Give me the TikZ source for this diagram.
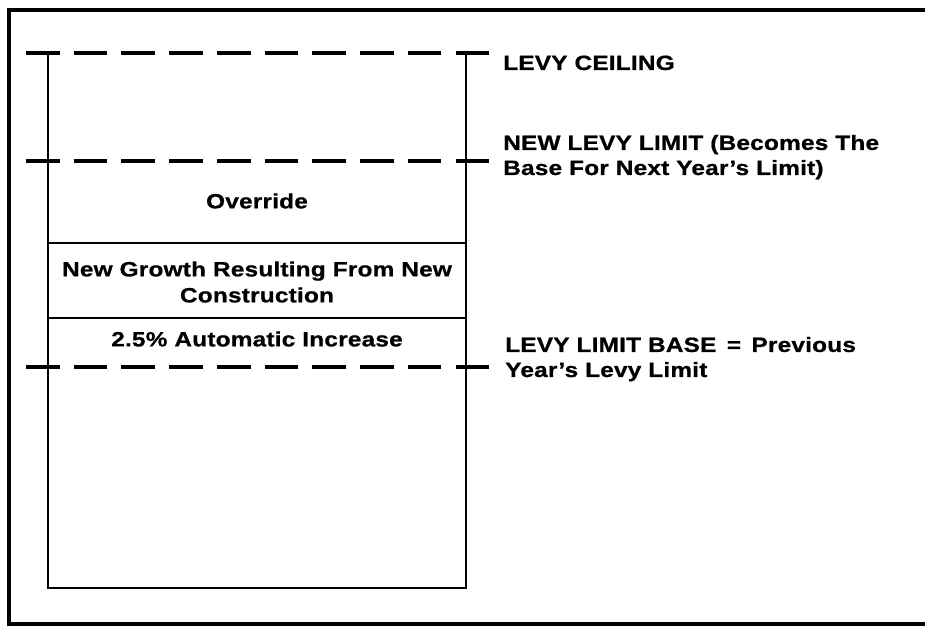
\documentclass[tikz,border=0pt]{standalone}
\usepackage{fontspec}
\setmainfont{Liberation Sans}[FakeStretch=1.18, LetterSpace=1, BoldFeatures={FakeBold=0.8}]
\usepackage{tikz}
\usetikzlibrary{positioning}

\begin{document}
\begin{tikzpicture}[
    x=0.75pt, y=-0.75pt,
    frame/.style={line width=3pt},
    wall/.style={line width=2pt},
    slab/.style={line width=1.4pt},
    levelline/.style={line width=2.6pt, dash pattern=on 25.2pt off 10.6pt},
    boxtext/.style={font=\fontsize{15.5}{19.5}\selectfont\bfseries, align=center, inner sep=0pt},
    sidetext/.style={font=\fontsize{15.5}{18.8}\selectfont\bfseries, align=left, anchor=base west, inner sep=0pt},
]
\useasboundingbox (0,0) rectangle (925,627);

% outer frame (open on the right)
\draw[frame] (925,10) -- (9,10) -- (9,624) -- (925,624);

% levy box
\coordinate (topL) at (48,53);
\coordinate (topR) at (466,53);
\coordinate (botL) at (48,588);
\coordinate (botR) at (466,588);
\draw[wall] (topL) -- (botL) -- (botR) -- (topR);

% layers inside the box
\coordinate (g1L) at (48,243);
\coordinate (g1R) at (466,243);
\coordinate (g2L) at (48,318);
\coordinate (g2R) at (466,318);
\draw[slab] (g1L) -- (g1R);
\draw[slab] (g2L) -- (g2R);

% dashed levels
\coordinate (ceilA) at (26,53);   \coordinate (ceilB) at (489,53);
\coordinate (limA) at (26,161);   \coordinate (limB) at (489,161);
\coordinate (baseA) at (26,367);  \coordinate (baseB) at (489,367);
\draw[levelline] (ceilA) -- (ceilB);
\draw[levelline] (limA) -- (limB);
\draw[levelline] (baseA) -- (baseB);

% texts in the box
\node[boxtext] (override) at (257,201) {Override};
\node[boxtext] (growth) at (257,282) {New Growth Resulting From New\\Construction};
\node[boxtext] (auto) at (257,339) {2.5\% Automatic Increase};

% labels on the right
\node[sidetext] (ceiling) at (503,70) {LEVY CEILING};
\node[sidetext] (newlimit) at (503,175) {NEW LEVY LIMIT (Becomes The\\Base For Next Year's Limit)};
\node[sidetext] (limitbase) at (505,377) {LEVY LIMIT BASE\, = \,Previous\\Year's Levy Limit};
\end{tikzpicture}
\end{document}
